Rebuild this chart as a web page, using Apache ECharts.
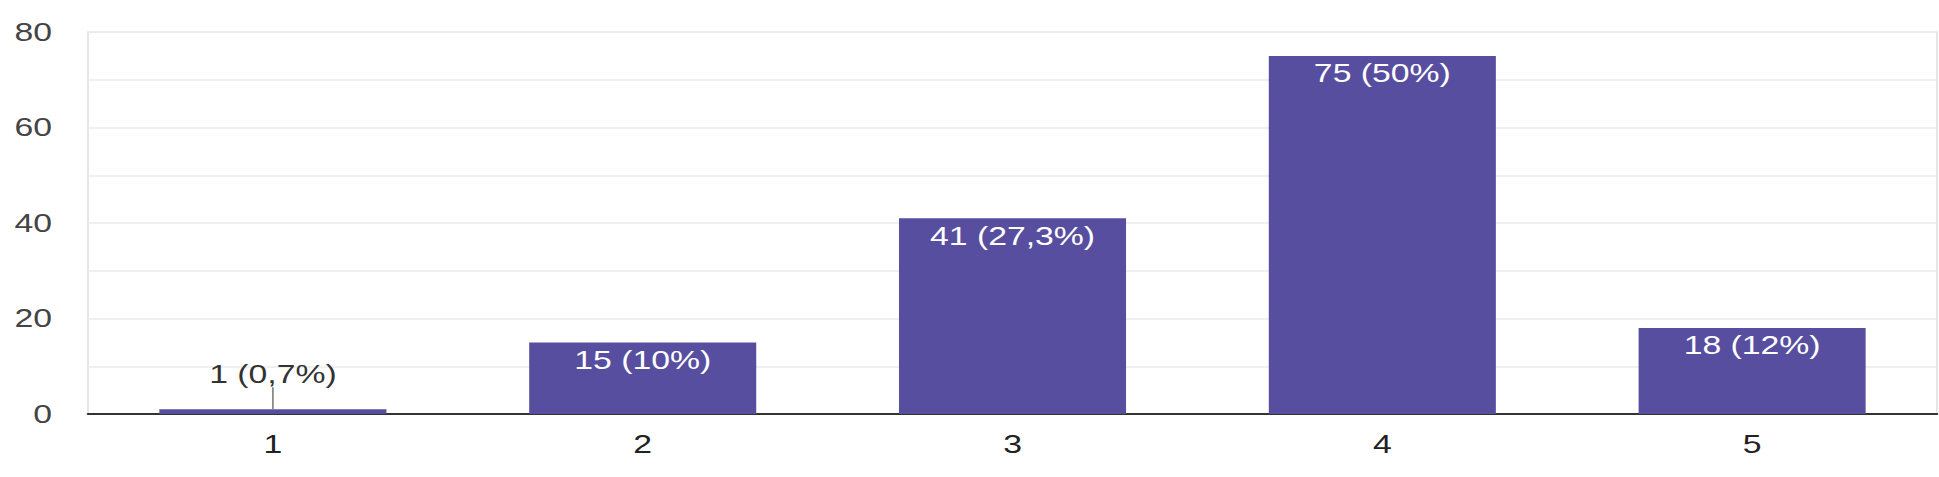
<!DOCTYPE html>
<html>
<head>
<meta charset="utf-8">
<script src="https://cdn.jsdelivr.net/npm/echarts@6/dist/echarts.min.js"></script>
<style>
html,body{margin:0;padding:0;background:#fff;overflow:hidden;}
#wrap{width:1939px;height:477px;overflow:hidden;}
#c{width:1436px;height:477px;transform:scaleX(1.3503);transform-origin:0 0;}
</style>
</head>
<body>
<div id="wrap"><div id="c"></div></div>
<script>
const categories = ['1', '2', '3', '4', '5'];
const counts = [1, 15, 41, 75, 18];
const percents = ['0,7%', '10%', '27,3%', '50%', '12%'];
const yTicks = [0, 20, 40, 60, 80];

const SX = 1.3503; // horizontal stretch of the reference
const chart = echarts.init(document.getElementById('c'), null, {renderer: 'svg'});
const font = 'Liberation Sans, Arial, sans-serif';
const isSmall = v => v < 5;
const data = counts.map(v => isSmall(v)
  ? {value: v, label: {position: 'top', color: '#333', distance: 23}}
  : v);
const leaderData = counts.map((v, i) => [i, v]).filter(d => isSmall(d[1]));

chart.setOption({
  animation: false,
  grid: {left: 88 / SX, right: 2 / SX, top: 32, bottom: 63, show: true, borderColor: '#e6e6e6', borderWidth: 1.5},
  xAxis: {
    type: 'category',
    data: categories,
    axisTick: {show: false},
    axisLine: {lineStyle: {color: '#333', width: 2}},
    axisLabel: {color: '#222', fontSize: 25, fontFamily: font, margin: 18}
  },
  yAxis: {
    type: 'value',
    min: yTicks[0],
    max: yTicks[yTicks.length - 1],
    interval: 20,
    axisLine: {show: false},
    axisTick: {show: false},
    axisLabel: {color: '#444', fontSize: 25, fontFamily: font, margin: 36 / SX},
    splitLine: {lineStyle: {color: '#ebebeb', width: 1.5}},
    minorTick: {show: false, splitNumber: 2},
    minorSplitLine: {show: true, lineStyle: {color: '#ebebeb', width: 1.5}}
  },
  series: [{
    type: 'bar',
    data: data,
    barWidth: '61.4%',
    itemStyle: {color: '#574EA0'},
    label: {
      show: true,
      position: 'insideTop',
      distance: 5,
      color: '#fff',
      fontSize: 25,
      fontFamily: font,
      formatter: p => counts[p.dataIndex] + ' (' + percents[p.dataIndex] + ')'
    }
  }, {
    type: 'custom',
    data: leaderData,
    silent: true,
    z: 3,
    renderItem: (params, api) => {
      const p = api.coord([api.value(0), api.value(1)]);
      return {
        type: 'line',
        shape: {x1: p[0], y1: p[1], x2: p[0], y2: p[1] - 22},
        style: {stroke: '#888', lineWidth: 1.3}
      };
    }
  }]
});
</script>
</body>
</html>
